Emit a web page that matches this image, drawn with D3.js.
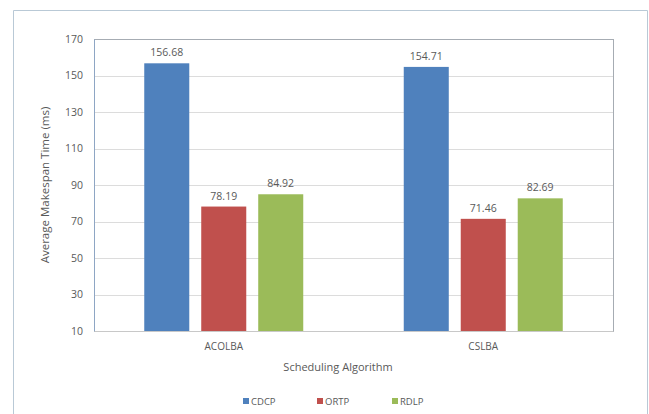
<!DOCTYPE html>
<html>
<head>
<meta charset="utf-8">
<script src="https://cdn.jsdelivr.net/npm/d3@7"></script>
<style>
  body { margin: 0; background: #fff; }
  svg text { font-family: "Open Sans", "DejaVu Sans", sans-serif; fill: #595959; }
</style>
</head>
<body>
<svg width="649" height="414"></svg>
<script>
const categories = ["ACOLBA", "CSLBA"];
const seriesNames = ["CDCP", "ORTP", "RDLP"];
const cdcp = [156.68, 154.71];
const ortp = [78.19, 71.46];
const rdlp = [84.92, 82.69];
const yTicks = [10, 30, 50, 70, 90, 110, 130, 150, 170];
const colors = ["#4f81bd", "#c0504d", "#9bbb59"];

const svg = d3.select("svg");
const width = +svg.attr("width");
const height = +svg.attr("height");

// outer chart frame (bottom edge is off the picture)
svg.append("path")
  .attr("d", `M13.5,${height} V10.5 H647.5 V${height}`)
  .attr("fill", "none")
  .attr("stroke", "#b9c9d6");

const margin = { top: 39, right: 36, bottom: 83, left: 94 };
const innerWidth = width - margin.left - margin.right;
const innerHeight = height - margin.top - margin.bottom;

const g = svg.append("g")
  .attr("transform", `translate(${margin.left}, ${margin.top})`);

const xScale = d3.scaleBand()
  .domain(categories)
  .range([0, innerWidth]);

const xSub = d3.scaleBand()
  .domain(seriesNames)
  .range([0, 159])
  .paddingInner(0.21);

const yScale = d3.scaleLinear()
  .domain([10, 170])
  .range([innerHeight, 0]);

// gridlines
g.append("g")
  .selectAll("line")
  .data(yTicks.slice(1))
  .join("line")
  .attr("x1", 0).attr("x2", innerWidth)
  .attr("y1", d => Math.round(yScale(d)) + 0.5)
  .attr("y2", d => Math.round(yScale(d)) + 0.5)
  .attr("stroke", "#dcdcdc");

// plot border
g.append("rect")
  .attr("x", 0.5).attr("y", 0.5)
  .attr("width", innerWidth).attr("height", innerHeight)
  .attr("fill", "none")
  .attr("stroke", "#a6acb3");

// y axis
const yAxisG = g.append("g")
  .call(d3.axisLeft(yScale).tickValues(yTicks).tickSize(0).tickPadding(11))
  .attr("font-family", null)
  .attr("font-size", null);
yAxisG.select(".domain").attr("stroke", "#8ea6c4");
yAxisG.selectAll("text").style("font-size", "10.5px");

// x axis
const xAxisG = g.append("g")
  .attr("transform", `translate(0, ${innerHeight})`)
  .call(d3.axisBottom(xScale).tickSize(0).tickPadding(12))
  .attr("font-family", null)
  .attr("font-size", null);
xAxisG.select(".domain").attr("stroke", "#c8c8c8");
xAxisG.selectAll("text").style("font-size", "10px");

// bars
const data = categories.map((c, i) => ({
  category: c,
  values: [cdcp[i], ortp[i], rdlp[i]].map((v, j) => ({ name: seriesNames[j], value: v }))
}));

const groups = g.selectAll(".group")
  .data(data)
  .join("g")
  .attr("class", "group")
  .attr("transform", d => `translate(${xScale(d.category) + (xScale.bandwidth() - 159) / 2}, 0)`);

groups.selectAll("rect")
  .data(d => d.values)
  .join("rect")
  .attr("x", d => xSub(d.name))
  .attr("y", d => yScale(d.value))
  .attr("width", xSub.bandwidth())
  .attr("height", d => innerHeight - yScale(d.value))
  .attr("fill", (d, i) => colors[i]);

groups.selectAll(".label")
  .data(d => d.values)
  .join("text")
  .attr("class", "label")
  .attr("x", d => xSub(d.name) + xSub.bandwidth() / 2)
  .attr("y", d => yScale(d.value) - 7)
  .attr("text-anchor", "middle")
  .style("font-size", "10.5px")
  .text(d => d.value.toFixed(2));

// axis titles
svg.append("text")
  .attr("transform", `translate(49, ${margin.top + innerHeight / 2}) rotate(-90)`)
  .attr("text-anchor", "middle")
  .style("font-size", "11.5px")
  .text("Average Makespan Time (ms)");

svg.append("text")
  .attr("x", 338)
  .attr("y", 371)
  .attr("text-anchor", "middle")
  .style("font-size", "11px")
  .text("Scheduling Algorithm");

// legend
const legendX = [243, 317, 392];
const legend = svg.append("g")
  .selectAll("g")
  .data(seriesNames)
  .join("g")
  .attr("transform", (d, i) => `translate(${legendX[i]}, 402)`);
legend.append("rect")
  .attr("x", 0).attr("y", -4)
  .attr("width", 6).attr("height", 6)
  .attr("fill", (d, i) => colors[i]);
legend.append("text")
  .attr("x", 8).attr("y", 3)
  .style("font-size", "9.5px")
  .text(d => d);
</script>
</body>
</html>
